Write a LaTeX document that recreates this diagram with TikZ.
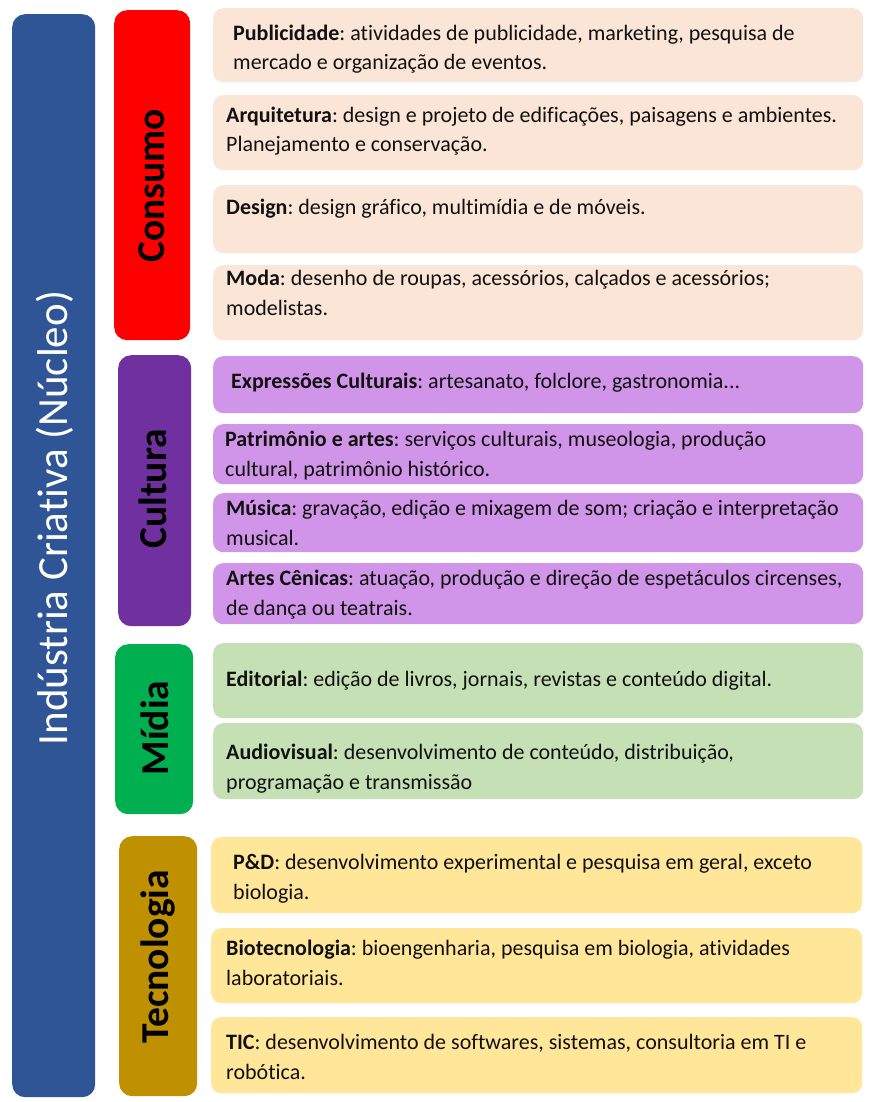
\documentclass[tikz,border=0pt]{standalone}
\usepackage{fontspec}
\setmainfont{Carlito}[Ligatures=NoCommon]
\frenchspacing
\definecolor{cblue}{HTML}{2F5597}
\definecolor{cred}{HTML}{FF0000}
\definecolor{cpurple}{HTML}{7030A0}
\definecolor{cgreen}{HTML}{00B050}
\definecolor{cgold}{HTML}{BF9000}
\definecolor{lpeach}{HTML}{FBE5D6}
\definecolor{llav}{HTML}{D094E8}
\definecolor{lgreen}{HTML}{C5E0B4}
\definecolor{lyellow}{HTML}{FFE699}
\definecolor{ink}{HTML}{111111}
\newcommand\ibox[6]{\node[itembox=#2, minimum width={(#5-#3)*1pt}, minimum height={(#6-#4)*1pt}, anchor=north west] (#1) at (#3,#4) {};}
\tikzset{
  itembox/.style={rounded corners=10pt, fill=#1, draw=none, inner sep=0pt},
  barbox/.style={rounded corners=13pt, fill=#1, draw=none, inner sep=0pt},
  txt/.style={anchor=base west, inner sep=0pt, align=left, text=ink, font=\fontsize{22}{29.5}\selectfont\frenchspacing},
  cat/.style={rotate=90, inner sep=0pt, font=\fontsize{39.5}{42}\selectfont\bfseries},
}
\begin{document}
\begin{tikzpicture}[x=1pt,y=-1pt]
\useasboundingbox (0,0) rectangle (872,1102);
\fill[white] (0,0) rectangle (872,1102);
% bars
\node[barbox=cblue, minimum width=83pt, minimum height=1083pt, anchor=north west] (main) at (12,14) {};
\node[barbox=cred, minimum width=76pt, minimum height=330pt, anchor=north west] (bcons) at (114,10) {};
\node[barbox=cpurple, minimum width=73pt, minimum height=271pt, anchor=north west] (bcult) at (118,355) {};
\node[barbox=cgreen, minimum width=78pt, minimum height=170pt, anchor=north west] (bmid) at (115,644) {};
\node[barbox=cgold, minimum width=78pt, minimum height=260pt, anchor=north west] (btec) at (119,836) {};
% labels of bars
\node[rotate=90, inner sep=0pt, text=white, font=\fontsize{43}{45}\selectfont] (lmain) at (55,518) {Indústria Criativa (Núcleo)};
\node[cat] (lcons) at (152,186) {Consumo};
\node[cat] (lcult) at (153,489) {Cultura};
\node[cat] (lmid) at (155,728) {Mídia};
\node[cat] (ltec) at (158,957) {Tecnologia};
% consumo
\ibox{c1}{lpeach}{213}{8}{863}{82}
\ibox{c2}{lpeach}{213}{95}{863}{170}
\ibox{c3}{lpeach}{213}{185}{863}{253}
\ibox{c4}{lpeach}{213}{265}{863}{340}
\node[txt] (tc1) at (233,70) {\textbf{Publicidade}: atividades de publicidade, marketing, pesquisa de\\mercado e organização de eventos.};
\node[txt] (tc2) at (226,152) {\textbf{Arquitetura}: design e projeto de edificações, paisagens e ambientes.\\Planejamento e conservação.};
\node[txt] (tc3) at (226,214) {\textbf{Design}: design gráfico, multimídia e de móveis.};
\node[txt] (tc4) at (226,315) {\textbf{Moda}: desenho de roupas, acessórios, calçados e acessórios;\\modelistas.};
% cultura
\ibox{u1}{llav}{213}{356}{863}{413}
\ibox{u2}{llav}{213}{424}{863}{484}
\ibox{u3}{llav}{213}{493}{863}{552}
\ibox{u4}{llav}{213}{563}{863}{624}
\node[txt] (tu1) at (231,388) {\textbf{Expressões Culturais}: artesanato, folclore, gastronomia...};
\node[txt] (tu2) at (225,476) {\textbf{Patrimônio e artes}: serviços culturais, museologia, produção\\cultural, patrimônio histórico.};
\node[txt] (tu3) at (226,545) {\textbf{Música}: gravação, edição e mixagem de som; criação e interpretação\\musical.};
\node[txt] (tu4) at (226,615) {\textbf{Artes Cênicas}: atuação, produção e direção de espetáculos circenses,\\de dança ou teatrais.};
% midia
\ibox{m1}{lgreen}{213}{643}{863}{718}
\ibox{m2}{lgreen}{213}{723}{863}{799}
\node[txt] (tm1) at (226,686) {\textbf{Editorial}: edição de livros, jornais, revistas e conteúdo digital.};
\node[txt] (tm2) at (226,789) {\textbf{Audiovisual}: desenvolvimento de conteúdo, distribuição,\\programação e transmissão};
% tecnologia
\ibox{g1}{lyellow}{211}{837}{862}{913}
\ibox{g2}{lyellow}{211}{928}{862}{1003}
\ibox{g3}{lyellow}{211}{1017}{862}{1093}
\node[txt] (tg1) at (233,899) {\textbf{P\&D}: desenvolvimento experimental e pesquisa em geral, exceto\\biologia.};
\node[txt] (tg2) at (226,985) {\textbf{Biotecnologia}: bioengenharia, pesquisa em biologia, atividades\\laboratoriais.};
\node[txt] (tg3) at (226,1079) {\textbf{TIC}: desenvolvimento de softwares, sistemas, consultoria em TI e\\robótica.};
\end{tikzpicture}
\end{document}
